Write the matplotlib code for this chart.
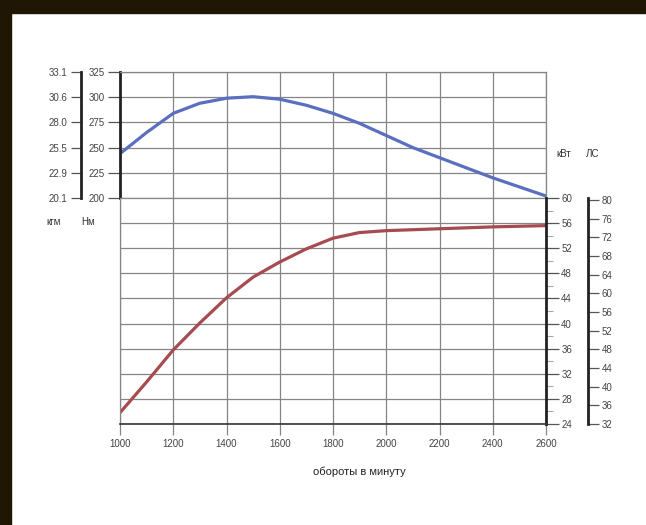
import matplotlib.pyplot as plt
from matplotlib.patches import Rectangle
from matplotlib.ticker import MultipleLocator

# --- data ---
rpm = [1000, 1100, 1200, 1300, 1400, 1500, 1600, 1700, 1800,
       1900, 2000, 2100, 2200, 2300, 2400, 2500, 2600]
torque_nm = [244, 265, 284, 294, 299, 300.5, 298, 292, 284,
             274, 262, 250, 240, 230, 220, 211, 202]
power_kw = [25.8, 30.7, 35.8, 40.1, 44.1, 47.4, 49.8, 51.9, 53.6,
            54.5, 54.8, 54.95, 55.1, 55.25, 55.4, 55.5, 55.6]

x_ticks = [1000, 1200, 1400, 1600, 1800, 2000, 2200, 2400, 2600]
nm_ticks = [200, 225, 250, 275, 300, 325]
kgm_labels = ['20.1', '22.9', '25.5', '28.0', '30.6', '33.1']
kw_ticks = [24, 28, 32, 36, 40, 44, 48, 52, 56, 60]
hp_ticks = [32, 36, 40, 44, 48, 52, 56, 60, 64, 68, 72, 76, 80]
KW_TO_HP = 1.341

TICKFONT = ['Liberation Sans Narrow', 'Liberation Sans', 'DejaVu Sans']
LABFONT = ['Liberation Sans', 'DejaVu Sans']
W, H = 646, 525


def fx(px):
    return px / W


def fy(py):
    return 1 - py / H


fig = plt.figure(figsize=(W / 100, H / 100), dpi=100)
fig.patch.set_facecolor('white')

# dark frame on top and left
fig.patches.append(Rectangle((0, fy(13)), 1, 13 / H, transform=fig.transFigure,
                             color='#1f1604', zorder=0))
fig.patches.append(Rectangle((0, 0), fx(11), 1, transform=fig.transFigure,
                             color='#1f1604', zorder=0))

grid_c = '#858585'
x0, x1 = 120, 546
yt, ym, yb = 72, 198, 424

# --- torque panel ---
ax_t = fig.add_axes([fx(x0), fy(ym), fx(x1 - x0), (ym - yt) / H])
ax_t.plot(rpm, torque_nm, color='#5a6fc0', lw=2.3,
          solid_capstyle='round', solid_joinstyle='round')
ax_t.set_xlim(1000, 2600)
ax_t.set_ylim(200, 325)
ax_t.set_xticks(x_ticks)
ax_t.set_yticks(nm_ticks)
ax_t.grid(True, color=grid_c, lw=0.9)
ax_t.tick_params(axis='x', length=0, labelbottom=False)
ax_t.tick_params(axis='y', length=9, width=0.9, color='#555', pad=2,
                 labelsize=7, labelcolor='#444')
for lab in ax_t.get_yticklabels():
    lab.set_family(TICKFONT)
for s in ['top', 'right', 'bottom']:
    ax_t.spines[s].set_color(grid_c)
    ax_t.spines[s].set_linewidth(0.9)
ax_t.spines['left'].set_linewidth(2)
ax_t.spines['left'].set_color('#222')

# --- power panel ---
ax_p = fig.add_axes([fx(x0), fy(yb), fx(x1 - x0), (yb - ym) / H])
ax_p.plot(rpm, power_kw, color='#a64b50', lw=2.3,
          solid_capstyle='round', solid_joinstyle='round')
ax_p.set_xlim(1000, 2600)
ax_p.set_ylim(24, 60)
ax_p.set_xticks(x_ticks)
ax_p.set_yticks(kw_ticks)
ax_p.yaxis.set_minor_locator(MultipleLocator(2))
ax_p.grid(True, which='major', color=grid_c, lw=0.9)
ax_p.yaxis.tick_right()
ax_p.tick_params(axis='y', which='major', length=9, width=0.9, color='#555',
                 pad=2, labelsize=7, labelcolor='#444')
ax_p.tick_params(axis='y', which='minor', length=5, width=0.8, color='#aaa')
ax_p.tick_params(axis='x', length=8, width=0.9, color=grid_c, pad=3,
                 labelsize=7, labelcolor='#444')
for lab in ax_p.get_yticklabels() + ax_p.get_xticklabels():
    lab.set_family(TICKFONT)
ax_p.spines['top'].set_visible(False)
ax_p.spines['left'].set_color(grid_c)
ax_p.spines['left'].set_linewidth(0.9)
ax_p.spines['right'].set_linewidth(2)
ax_p.spines['right'].set_color('#222')
ax_p.spines['bottom'].set_color('#333')
ax_p.spines['bottom'].set_linewidth(1.2)

# --- kgm scale (left, outside) ---
ax_k = fig.add_axes([fx(81), fy(ym), 0.001, (ym - yt) / H])
ax_k.set_ylim(200, 325)
ax_k.set_yticks(nm_ticks)
ax_k.set_yticklabels(kgm_labels)
ax_k.set_xticks([])
ax_k.patch.set_visible(False)
for s in ['top', 'right', 'bottom']:
    ax_k.spines[s].set_visible(False)
ax_k.spines['left'].set_linewidth(2)
ax_k.spines['left'].set_color('#222')
ax_k.tick_params(axis='y', length=7, width=0.9, color='#555', pad=3,
                 labelsize=7, labelcolor='#444')
for lab in ax_k.get_yticklabels():
    lab.set_family(TICKFONT)

# --- hp scale (right, outside) ---
ax_h = fig.add_axes([fx(588) - 0.001, fy(yb), 0.001, (yb - ym) / H])
ax_h.set_ylim(24 * KW_TO_HP, 60 * KW_TO_HP)
ax_h.set_yticks(hp_ticks)
ax_h.set_xticks([])
ax_h.yaxis.tick_right()
ax_h.patch.set_visible(False)
for s in ['top', 'left', 'bottom']:
    ax_h.spines[s].set_visible(False)
ax_h.spines['right'].set_linewidth(2)
ax_h.spines['right'].set_color('#222')
ax_h.tick_params(axis='y', length=8, width=0.9, color='#555', pad=2,
                 labelsize=7, labelcolor='#444')
for lab in ax_h.get_yticklabels():
    lab.set_family(TICKFONT)

# --- unit labels and axis title ---
unit_kw = dict(fontsize=7, family=LABFONT, ha='center', va='center',
               color='#333')
fig.text(fx(54), fy(222), 'кгм', **unit_kw)
fig.text(fx(88), fy(222), 'Нм', **unit_kw)
fig.text(fx(564), fy(154), 'кВт', **unit_kw)
fig.text(fx(593), fy(154), 'ЛС', **unit_kw)
fig.text(fx(359), fy(472), 'обороты в минуту', fontsize=8, family=LABFONT,
         ha='center', va='center', color='#222')

fig.savefig('out.png', dpi=100)
